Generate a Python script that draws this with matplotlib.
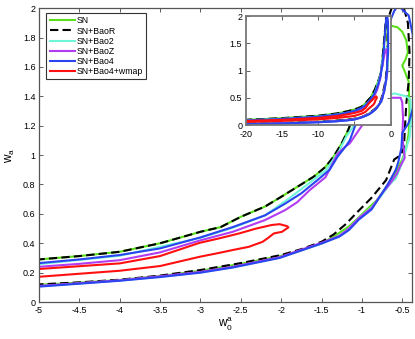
import matplotlib
matplotlib.use("Agg")
import matplotlib.pyplot as plt

plt.rcParams['font.family'] = ['Liberation Sans', 'DejaVu Sans']
plt.rcParams['mathtext.default'] = 'regular'
plt.rcParams['axes.unicode_minus'] = False

# ---- contour data (w0, wa) : open polylines from far-left upper branch, around the right end, back along lower branch ----
sn_w0 = [-22, -20, -15, -10, -7.5, -6, -5, -4.5, -4, -3.5, -3, -2.75, -2.5, -2.2, -2, -1.8, -1.6, -1.45, -1.35, -1.25, -1.17,
         -1.0, -0.85, -0.72, -0.64, -0.56, -0.5, -0.45, -0.43, -0.46, -0.5, -0.47, -0.42, -0.41, -0.42, -0.45,
         -0.5, -0.6, -0.7, -0.82, -0.9, -1.05, -1.16, -1.35, -1.5, -1.75, -2, -2.5, -3, -3.5, -4, -4.5, -5, -6, -7.5, -10, -15, -20, -22]
sn_wa = [0.09, 0.10, 0.13, 0.175, 0.215, 0.255, 0.29, 0.313, 0.342, 0.40, 0.478, 0.51, 0.58, 0.65, 0.716, 0.784, 0.852, 0.92, 0.99, 1.08, 1.17,
         1.4, 1.62, 1.8, 1.88, 1.87, 1.84, 1.78, 1.7, 1.65, 1.61, 1.57, 1.5, 1.3, 1.15, 1.05,
         0.97, 0.86, 0.78, 0.69, 0.65, 0.57, 0.515, 0.445, 0.40, 0.352, 0.315, 0.26, 0.213, 0.177, 0.15, 0.132, 0.118, 0.10, 0.083, 0.063, 0.04, 0.028, 0.025]

baor_w0 = [-22, -20, -15, -10, -7.5, -6, -5, -4.5, -4, -3.5, -3, -2.75, -2.5, -2.2, -2, -1.8, -1.6, -1.45, -1.35, -1.25, -1.17,
           -1.0, -0.85, -0.72, -0.62, -0.55, -0.48, -0.43, -0.41, -0.42, -0.45, -0.47, -0.48,
           -0.52, -0.6, -0.7, -0.88, -1.06, -1.2, -1.35, -1.5, -1.75, -2, -2.5, -3, -3.5, -4, -4.5, -5, -6, -7.5, -10, -15, -20, -22]
baor_wa = [0.09, 0.10, 0.13, 0.175, 0.215, 0.255, 0.29, 0.313, 0.342, 0.40, 0.478, 0.51, 0.58, 0.65, 0.716, 0.784, 0.852, 0.92, 0.99, 1.08, 1.17,
           1.42, 1.65, 1.85, 2.02, 2.04, 2.0, 1.9, 1.7, 1.5, 1.35, 1.15, 1.05,
           1.0, 0.97, 0.83, 0.71, 0.61, 0.53, 0.46, 0.41, 0.36, 0.32, 0.265, 0.218, 0.18, 0.152, 0.134, 0.12, 0.102, 0.085, 0.065, 0.042, 0.03, 0.027]

bao2_w0 = [-22, -20, -15, -10, -7.5, -6, -5, -4, -3, -2.6, -2.2, -1.94, -1.65, -1.44, -1.28, -1.2,
           -1.0, -0.8, -0.6, -0.45, -0.40, -0.39, -0.41, -0.45, -0.5, -0.55, -0.58, -0.62, -0.67, -0.75, -0.88, -1.04, -1.16, -1.28,
           -1.49, -2.02, -2.6, -3, -3.5, -4, -4.5, -5, -6, -7.5, -10, -15, -20, -22]
bao2_wa = [0.082, 0.09, 0.118, 0.16, 0.197, 0.228, 0.258, 0.315, 0.437, 0.505, 0.59, 0.69, 0.81, 0.90, 1.03, 1.12,
           1.28, 1.38, 1.42, 1.40, 1.38, 1.25, 1.12, 1.05, 0.95, 0.88, 0.84, 0.82, 0.79, 0.73, 0.645, 0.57, 0.50, 0.45,
           0.40, 0.303, 0.237, 0.202, 0.172, 0.147, 0.127, 0.108, 0.092, 0.075, 0.057, 0.036, 0.023, 0.021]

baoz_w0 = [-22, -20, -15, -10, -7.5, -6, -5, -4.5, -4, -3.5, -3, -2.6, -2.2, -1.95, -1.8, -1.65, -1.45, -1.3, -1.2, -1.15,
           -1.0, -0.8, -0.64, -0.52, -0.5, -0.49, -0.5, -0.48, -0.47, -0.52, -0.57, -0.66, -0.75, -0.88, -1.04, -1.16, -1.28,
           -1.49, -2.02, -2.6, -3, -3.5, -4, -4.5, -5, -6, -7.5, -10, -15, -20, -22]
baoz_wa = [0.075, 0.08, 0.105, 0.145, 0.178, 0.21, 0.24, 0.26, 0.285, 0.338, 0.42, 0.478, 0.558, 0.626, 0.68, 0.76, 0.85, 1.01, 1.06, 1.08,
           1.2, 1.33, 1.39, 1.39, 1.36, 1.25, 1.12, 1.04, 0.98, 0.93, 0.87, 0.80, 0.74, 0.64, 0.57, 0.50, 0.45,
           0.405, 0.305, 0.24, 0.205, 0.175, 0.148, 0.128, 0.11, 0.094, 0.076, 0.058, 0.037, 0.024, 0.022]

bao4_w0 = [-22, -20, -15, -10, -7.5, -6, -5, -4.5, -4, -3.5, -3, -2.6, -2.2, -1.95, -1.75, -1.55, -1.4, -1.3, -1.2, -1.15,
           -0.95, -0.78, -0.66, -0.6, -0.55, -0.48, -0.42, -0.37, -0.35, -0.35, -0.42, -0.5, -0.51,
           -0.55, -0.58, -0.67, -0.75, -0.88, -1.04, -1.16, -1.28, -1.49, -2.02, -2.6, -3, -3.5, -4, -4.5, -5, -6, -7.5, -10, -15, -20, -22]
bao4_wa = [0.08, 0.088, 0.115, 0.158, 0.195, 0.232, 0.265, 0.29, 0.32, 0.365, 0.44, 0.51, 0.59, 0.67, 0.74, 0.83, 0.90, 0.99, 1.06, 1.10,
           1.4, 1.7, 1.9, 1.98, 2.02, 1.98, 1.95, 1.82, 1.6, 1.35, 1.22, 1.15, 1.05,
           0.95, 0.9, 0.81, 0.74, 0.63, 0.56, 0.49, 0.445, 0.40, 0.30, 0.235, 0.20, 0.17, 0.145, 0.125, 0.105, 0.09, 0.073, 0.055, 0.035, 0.022, 0.02]

wmap_w0 = [-22, -20, -15, -10, -7.5, -6, -5, -4, -3.5, -3.01, -2.77, -2.52, -2.31, -2.12, -2.02, -1.93, -1.91,
           -1.99, -2.09, -2.17, -2.23, -2.4, -2.6, -2.8, -3.01, -3.5, -4, -5, -6, -7.5, -10, -15, -20, -22]
wmap_wa = [0.073, 0.078, 0.1, 0.135, 0.168, 0.2, 0.225, 0.263, 0.313, 0.403, 0.433, 0.467, 0.50, 0.524, 0.53, 0.517, 0.508,
           0.478, 0.467, 0.433, 0.41, 0.376, 0.354, 0.331, 0.308, 0.245, 0.213, 0.172, 0.155, 0.133, 0.108, 0.08, 0.063, 0.06]

labels = ['SN', 'SN+BaoR', 'SN+Bao2', 'SN+BaoZ', 'SN+Bao4', 'SN+Bao4+wmap']
xticks = [-5, -4.5, -4, -3.5, -3, -2.5, -2, -1.5, -1, -0.5]
yticks = [0, 0.2, 0.4, 0.6, 0.8, 1, 1.2, 1.4, 1.6, 1.8, 2]
inset_xticks = [-20, -15, -10, -5, 0]
inset_xticklabels = ['-20', '-15', '-10', '', '0']
inset_yticks = [0, 0.5, 1, 1.5, 2]

series = [
    (sn_w0, sn_wa, '#5ae01a', '-'),
    (baor_w0, baor_wa, 'black', (0, (4, 2))),
    (bao2_w0, bao2_wa, '#6ff5d8', '-'),
    (baoz_w0, baoz_wa, '#b23cf0', '-'),
    (bao4_w0, bao4_wa, '#2a44f0', '-'),
    (wmap_w0, wmap_wa, '#ff1010', '-'),
]

fig = plt.figure(figsize=(4.15, 3.39), dpi=100)
ax = fig.add_axes([0.094, 0.109, 0.899, 0.867])
for (x, y, c, ls), lab in zip(series, labels):
    ax.plot(x, y, color=c, ls=ls, lw=1.5, label=lab)
ax.set_xlim(-5, -0.378)
ax.set_ylim(0, 2)
ax.set_xticks(xticks)
ax.set_xticklabels([('%g' % t) for t in xticks])
ax.set_yticks(yticks)
ax.set_yticklabels([('%g' % t) for t in yticks])
ax.tick_params(direction='in', top=True, right=True, labelsize=6.5, length=3, width=0.6, colors='#444444', labelcolor='black', pad=2.5)
for s in ax.spines.values():
    s.set_color('#555555')
    s.set_linewidth(0.9)
ax.set_xlabel(r'$w_0^a$', fontsize=8.5, labelpad=1)
ax.set_ylabel(r'$w_a$', fontsize=8.5, labelpad=4)

leg = ax.legend(loc='upper left', bbox_to_anchor=(0.02, 0.982), fontsize=6.3, handlelength=2.9, handletextpad=0.25,
                labelspacing=0.12, borderpad=0.35, borderaxespad=0.0, fancybox=False, framealpha=1)
leg.get_frame().set_edgecolor('#333333')
leg.get_frame().set_linewidth(0.8)

ins = fig.add_axes([0.592, 0.6304, 0.3495, 0.3224])
for (x, y, c, ls), lab in zip(series, labels):
    ins.plot(x, y, color=c, ls=ls, lw=1.5)
ins.set_xlim(-20, 0)
ins.set_ylim(0, 2)
ins.set_xticks(inset_xticks)
ins.set_xticklabels(inset_xticklabels)
ins.set_yticks(inset_yticks)
ins.set_yticklabels([('%g' % t) for t in inset_yticks])
ins.tick_params(direction='in', top=True, right=True, labelsize=6.5, length=3, width=0.6, colors='#444444', labelcolor='black', pad=2.5)
ins.tick_params(axis='x', pad=3.5)
for s in ins.spines.values():
    s.set_color('#777777')
    s.set_linewidth(1.3)

fig.savefig('out.png', dpi=100)
